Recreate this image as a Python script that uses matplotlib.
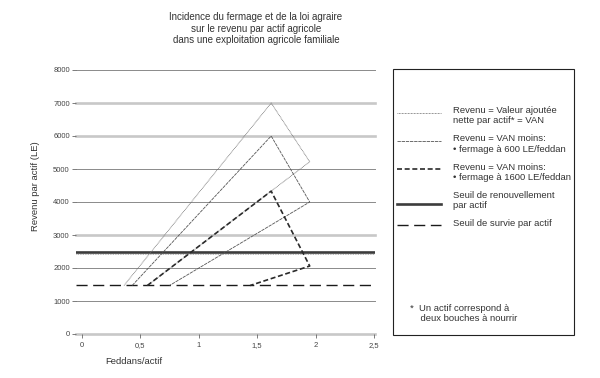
import matplotlib
matplotlib.use("Agg")
import matplotlib.pyplot as plt
from matplotlib.lines import Line2D
from matplotlib.patches import Rectangle

plt.rcParams['font.family'] = ['Liberation Sans', 'DejaVu Sans']

# ---- data ----
title = "Incidence du fermage et de la loi agraire\nsur le revenu par actif agricole\ndans une exploitation agricole familiale"
ylabel = "Revenu par actif (LE)"
xlabel = "Feddans/actif"
xticks = [0, 0.5, 1, 1.5, 2, 2.5]
xticklabels = ["0", "0,5", "1", "1,5", "2", "2,5"]
yticks = [0, 1000, 2000, 3000, 4000, 5000, 6000, 7000, 8000]
grid_light = [0, 3000, 6000, 7000]

seuil_survie = 1470
seuil_renouv = 2470

van_x = [0.36, 1.62, 1.95, 0.56]
van_y = [1470, 7000, 5220, 1470]
f600_x = [0.43, 1.62, 1.95, 0.75]
f600_y = [1470, 6000, 4000, 1470]
f1600_x = [0.56, 1.62, 1.95, 1.44]
f1600_y = [1470, 4330, 2060, 1470]

legend_labels = [
    "Revenu = Valeur ajoutée\nnette par actif* = VAN",
    "Revenu = VAN moins:\n• fermage à 600 LE/feddan",
    "Revenu = VAN moins:\n• fermage à 1600 LE/feddan",
    "Seuil de renouvellement\npar actif",
    "Seuil de survie par actif",
]
footnote = "*  Un actif correspond à\n    deux bouches à nourrir"

# ---- styles ----
st_van = dict(color="#6e6e6e", lw=0.6, ls=(0, (1, 0.8)))
st_600 = dict(color="#555555", lw=0.6, ls=(0, (4, 1)))
st_1600 = dict(color="#2a2a2a", lw=1.2, ls=(0, (3, 1.6)))
st_ren = dict(color="#3c3c3c", lw=1.9, ls="-")
st_surv = dict(color="#1a1a1a", lw=1.0, ls=(0, (8, 4)))

FS = 6.8
TC = "#333333"

fig = plt.figure(figsize=(6.0, 3.78), dpi=100)
ax = fig.add_axes([76/600, 1-334/378, 299/600, 264/378])
ax.set_xlim(-0.051, 2.509)
ax.set_ylim(0, 8000)

for v in yticks:
    if v in grid_light:
        ax.axhline(v, color="#c8c8c8", lw=1.9, zorder=1, clip_on=False)
    else:
        ax.axhline(v, color="#8a8a8a", lw=0.7, zorder=1, clip_on=False)

ax.axhline(seuil_renouv, zorder=3, **st_ren)
ax.axhline(seuil_renouv - 40, color="#9a9a9a", lw=0.6, ls=(0, (1, 1)), zorder=3)
ax.axhline(seuil_survie, zorder=3, **st_surv)

ax.plot(van_x, van_y, zorder=4, **st_van)
ax.plot(f600_x, f600_y, zorder=4, **st_600)
ax.plot(f1600_x, f1600_y, zorder=5, **st_1600)

ax.set_xticks(xticks)
ax.set_xticklabels(xticklabels)
ax.set_yticks(yticks)
ax.set_yticklabels([str(v) for v in yticks])
ax.tick_params(axis="x", length=3, width=0.6, color="#666666", pad=3, labelsize=5.5, labelcolor="#444444")
ax.tick_params(axis="y", length=3, width=0.6, color="#666666", pad=1.5, labelsize=5.5, labelcolor="#444444")
for s in ax.spines.values():
    s.set_visible(False)

fig.text(256/600, 1-12/378, title, ha="center", va="top", fontsize=7.0, color=TC, linespacing=1.2)
fig.text(35/600, 1-186/378, ylabel, rotation=90, ha="center", va="center", fontsize=FS, color=TC)
fig.text(105/600, 1-362/378, xlabel, ha="left", va="center", fontsize=FS, color=TC)

# ---- legend box ----
lax = fig.add_axes([0, 0, 1, 1])
lax.set_xlim(0, 600)
lax.set_ylim(378, 0)
lax.axis("off")
lax.add_patch(Rectangle((392.7, 69.3), 181.3, 265.7, fill=False, ec="#222222", lw=0.8))
styles = [st_van, st_600, st_1600, st_ren, st_surv]
sample_y = [113, 140.7, 169, 204.3, 225]
text_y = [115.7, 144, 172.7, 200.7, 223.7]
for st, sy, ty, lab in zip(styles, sample_y, text_y, legend_labels):
    lax.add_line(Line2D([397, 441], [sy, sy], **st))
    lax.text(452.7, ty, lab, ha="left", va="center", fontsize=FS, color=TC, linespacing=1.15)
lax.text(410, 313.5, footnote, ha="left", va="center", fontsize=FS, color=TC, linespacing=1.15)

fig.savefig("out.png", dpi=100)
